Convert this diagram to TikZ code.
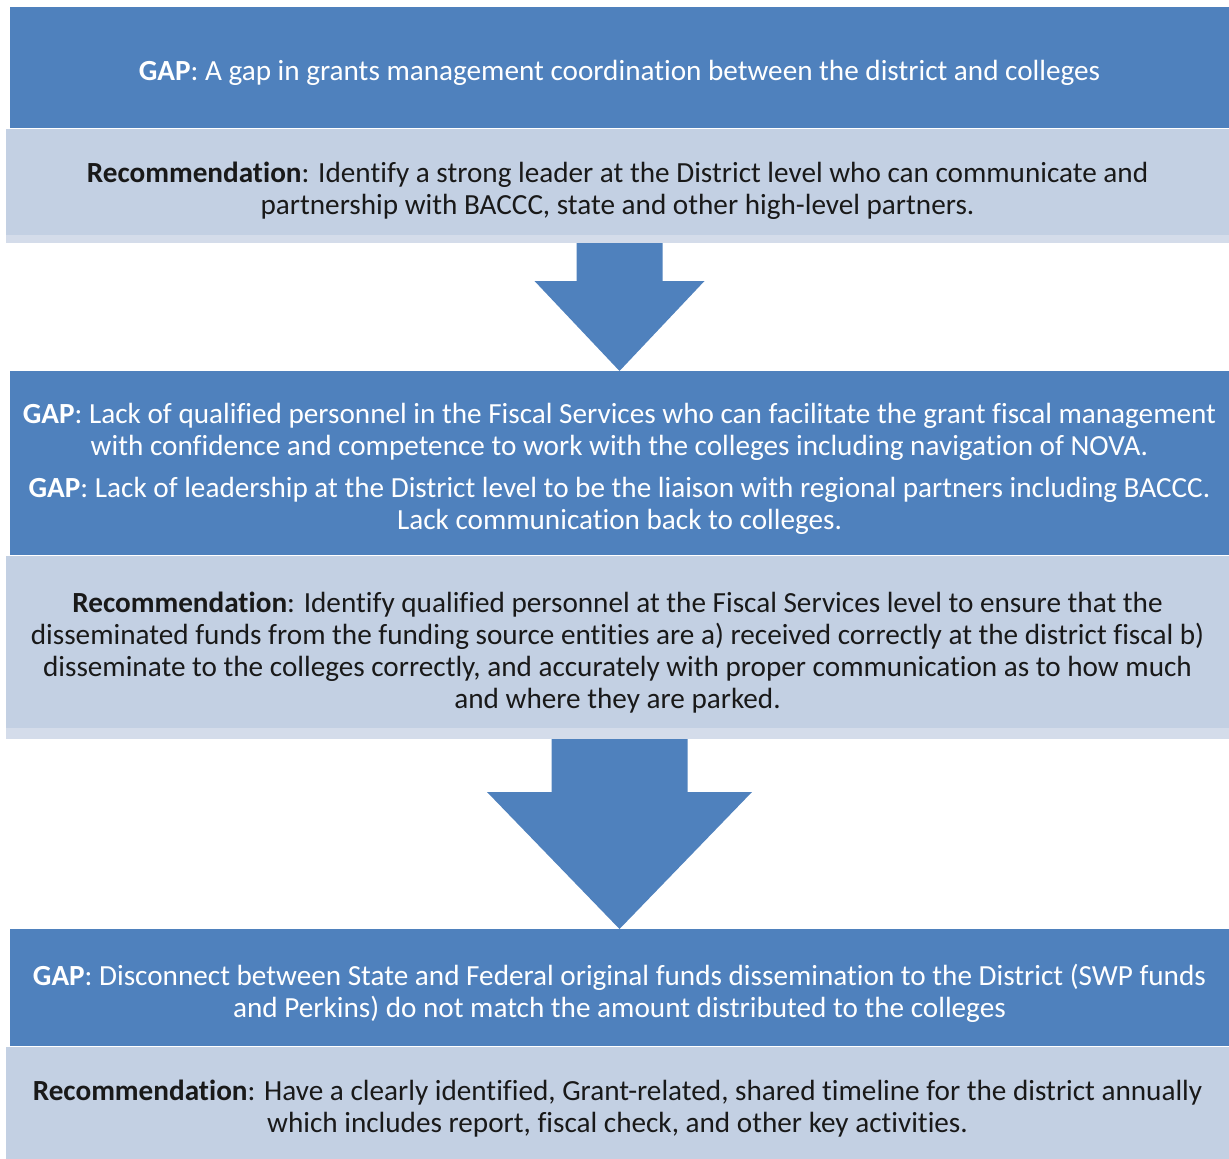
\documentclass[tikz,border=0pt]{standalone}
\usepackage{fontspec}
\setmainfont{Carlito}[Ligatures=NoCommon]
\usetikzlibrary{calc}
\definecolor{gapblue}{RGB}{79,129,189}
\definecolor{recblue}{RGB}{195,208,227}
\definecolor{recedge}{RGB}{212,220,234}
\newcommand{\topstrut}{\rule{0pt}{32pt}}

\begin{document}
\begin{tikzpicture}
[
    x=1pt, y=-1pt,
    gp/.style={fill=gapblue, text=white, minimum width=1219pt, inner sep=0pt, outer sep=0pt, align=center, font=\fontsize{29.2}{32}\selectfont},  % gp = gap box
    rc/.style={fill=recblue, text=black!90, minimum width=1223pt, inner sep=0pt, outer sep=0pt, align=center, font=\fontsize{29.2}{32}\selectfont}, % rc = recommendation box
    ar/.style={fill=gapblue},  % ar = down arrow
]
\useasboundingbox (0,0) rectangle (1229,1159);

\node [gp, minimum height=121pt] (gap1) at (619.5,67.5) {\topstrut\textbf{GAP}: A gap in grants management coordination between the district and colleges};
\node [rc, minimum height=112pt] (rec1) at (617.5,185) {\topstrut\textbf{Recommendation}: Identify a strong leader at the District level who can communicate and\\ partnership with BACCC, state and other high-level partners.};

\node [gp, minimum height=184pt] (gap2) at (619.5,463) {\topstrut\textbf{GAP}: Lack of qualified personnel in the Fiscal Services who can facilitate the grant fiscal management\\ with confidence and competence to work with the colleges including navigation of NOVA.\\[10pt]
\textbf{GAP}: Lack of leadership at the District level to be the liaison with regional partners including BACCC.\\ Lack communication back to colleges.};
\node [rc, minimum height=181pt] (rec2) at (617.5,646.5) {\topstrut\textbf{Recommendation}: Identify qualified personnel at the Fiscal Services level to ensure that the\\ disseminated funds from the funding source entities are a) received correctly at the district fiscal b)\\ disseminate to the colleges correctly, and accurately with proper communication as to how much\\ and where they are parked.};

\node [gp, minimum height=117pt] (gap3) at (619.5,987.5) {\topstrut\textbf{GAP}: Disconnect between State and Federal original funds dissemination to the District (SWP funds\\ and Perkins) do not match the amount distributed to the colleges};
\node [rc, minimum height=112pt] (rec3) at (617.5,1103) {\topstrut\textbf{Recommendation}: Have a clearly identified, Grant-related, shared timeline for the district annually\\ which includes report, fiscal check, and other key activities.};

% lighter bottom edge
\foreach \r/\h in {rec1/6, rec2/9}
  \fill [recedge] ($(\r.south west)+(0,-\h)$) rectangle ($(\r.south east)+(0,2)$);

% block arrows
\coordinate (t1) at ($(gap2.north |- rec1.south)+(0,2)$);
\fill [ar] ($(t1)+(-43,0)$) -- ++(0,38) -- ++(-42,0) -- (gap2.north) -- ($(t1)+(85,38)$) -- ++(-42,0) -- ($(t1)+(43,0)$) -- cycle;
\coordinate (t2) at ($(gap3.north |- rec2.south)+(0,2)$);
\fill [ar] ($(t2)+(-68,0)$) -- ++(0,53) -- ++(-64.5,0) -- (gap3.north) -- ($(t2)+(132.5,53)$) -- ++(-64.5,0) -- ($(t2)+(68,0)$) -- cycle;
\end{tikzpicture}
\end{document}
